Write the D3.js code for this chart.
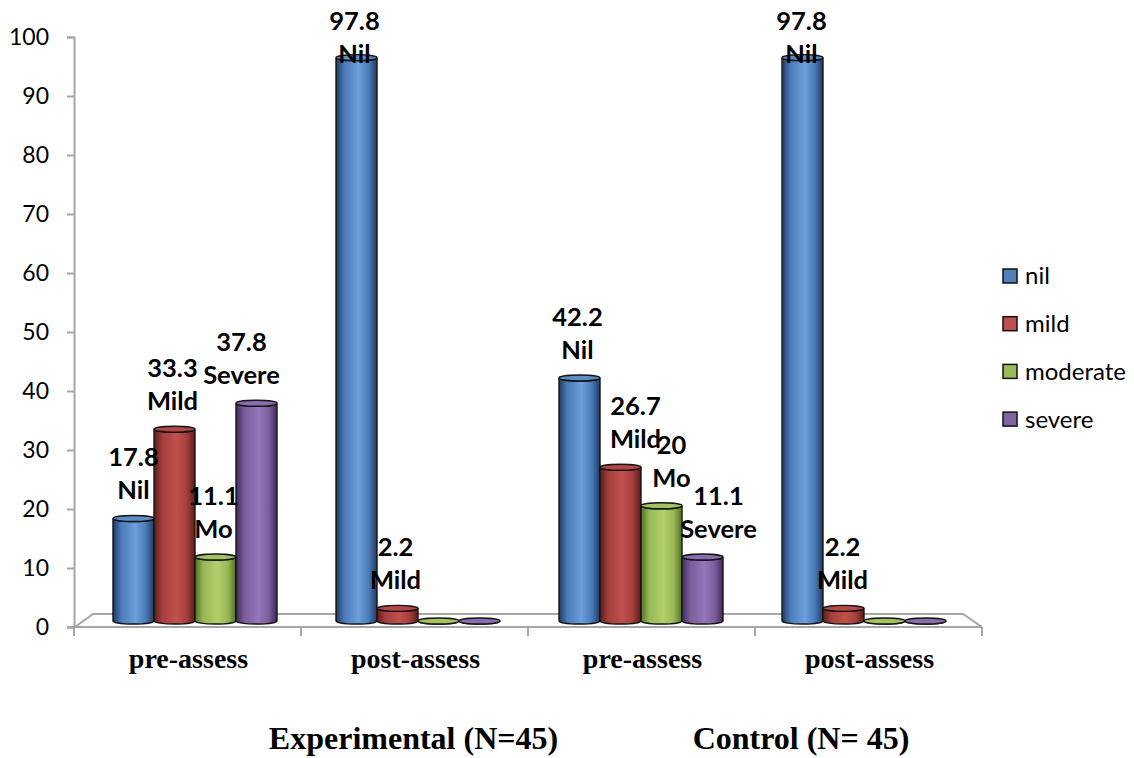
<!DOCTYPE html>
<html>
<head>
<meta charset="utf-8">
<script src="https://cdn.jsdelivr.net/npm/d3@7"></script>
<style>
  html, body { margin: 0; padding: 0; background: #fff; }
  svg { display: block; }
</style>
</head>
<body>
<svg id="chart" width="1134" height="758"></svg>
<script>
// ---------- DATA ----------
const categories = ["pre-assess", "post-assess", "pre-assess", "post-assess"];
const groupLabels = ["Experimental (N=45)", "Control (N= 45)"];
const seriesNames = ["nil", "mild", "moderate", "severe"];
const seriesShort = ["Nil", "Mild", "Mo", "Severe"];
const nilValues      = [17.8, 97.8, 42.2, 97.8];
const mildValues     = [33.3, 2.2, 26.7, 2.2];
const moderateValues = [11.1, 0, 20, 0];
const severeValues   = [37.8, 0, 11.1, 0];
const yTicks = [0, 10, 20, 30, 40, 50, 60, 70, 80, 90, 100];

// ---------- LAYOUT / STYLE ----------
const colors = {
  nil:      {dark: "#203a60", mid: "#4a7bb8", light: "#6d9fdc", top: "#5b8dcb"},
  mild:     {dark: "#5a1d1b", mid: "#a53f3c", light: "#c0504d", top: "#b34744"},
  moderate: {dark: "#547022", mid: "#98b856", light: "#b0d06c", top: "#a2c35f"},
  severe:   {dark: "#3e2b5a", mid: "#7a5d9d", light: "#9477b8", top: "#8a6daf"}
};
const legendColors = {nil: "#4f81bd", mild: "#c0504d", moderate: "#9bbb59", severe: "#8064a2"};
// small horizontal label nudges (layout only), per category then series
const labelNudge = [[0, -2, -2, -15], [-2, -2, 0, 0], [-2, 15, 10, 16], [-1, -1, 0, 0]];

const svg = d3.select("#chart");
const values = [nilValues, mildValues, moderateValues, severeValues];

// Axis (front plane) scale
const yAxisScale = d3.scaleLinear().domain([0, 100]).range([627, 37]);
// Bars stand deeper in the 3D box
const yBar = d3.scaleLinear().domain([0, 100]).range([621, 45]);

const xFront = d3.scaleBand().domain(d3.range(categories.length)).range([74, 982]).padding(0);
const xBack = d3.scaleBand().domain(d3.range(categories.length)).range([79, 971]).padding(0);
const xSub = d3.scaleBand().domain(seriesNames).range([0, 164]).padding(0);
const barOffset = 34;

const axisColor = "#a6a6a6";

// gradients
const defs = svg.append("defs");
seriesNames.forEach(s => {
  const c = colors[s];
  const g = defs.append("linearGradient").attr("id", "grad-" + s)
    .attr("x1", "0%").attr("x2", "100%").attr("y1", "0%").attr("y2", "0%");
  [[0, c.dark], [0.2, c.mid], [0.55, c.light], [0.8, c.mid], [1, c.dark]].forEach(([o, col]) => {
    g.append("stop").attr("offset", o).attr("stop-color", col);
  });
});

// floor
const floorG = svg.append("g");
floorG.append("path")
  .attr("d", `M75,627 L93,614 L963,614 L982,627`)
  .attr("fill", "none").attr("stroke", axisColor).attr("stroke-width", 2);
floorG.append("line").attr("x1", 67).attr("x2", 982).attr("y1", 627).attr("y2", 627)
  .attr("stroke", axisColor).attr("stroke-width", 2);
floorG.selectAll("line.xt").data(d3.range(categories.length + 1)).join("line")
  .attr("class", "xt")
  .attr("x1", i => i < categories.length ? xFront(i) : xFront.range()[1])
  .attr("x2", i => i < categories.length ? xFront(i) : xFront.range()[1])
  .attr("y1", 627).attr("y2", 636)
  .attr("stroke", axisColor).attr("stroke-width", 2);

// y axis
const yAxis = d3.axisLeft(yAxisScale).tickValues(yTicks).tickSize(7).tickPadding(18);
const yG = svg.append("g").attr("transform", "translate(74,0)").call(yAxis);
yG.select(".domain").attr("stroke", axisColor).attr("stroke-width", 2);
yG.selectAll(".tick line").attr("stroke", axisColor).attr("stroke-width", 2);
yG.selectAll(".tick text")
  .attr("font-family", "Lato, 'Open Sans', sans-serif")
  .attr("font-size", 23).attr("fill", "#000");

// bars
const ry = 3;
const barsG = svg.append("g");
categories.forEach((cat, ci) => {
  seriesNames.forEach((s, si) => {
    const v = values[si][ci];
    const x0 = xBack(ci) + barOffset + xSub(s);
    const w = xSub.bandwidth();
    const rx = w / 2;
    const cx = x0 + rx;
    const top = yBar(v);
    const bot = yBar(0);
    const g = barsG.append("g");
    g.append("path")
      .attr("d", `M${x0},${top} L${x0},${bot} A${rx},${ry} 0 0 0 ${x0 + w},${bot} L${x0 + w},${top} A${rx},${ry} 0 0 1 ${x0},${top} Z`)
      .attr("fill", `url(#grad-${s})`)
      .attr("stroke", "#151515").attr("stroke-width", 1.4);
    g.append("ellipse")
      .attr("cx", cx).attr("cy", top).attr("rx", rx).attr("ry", ry)
      .attr("fill", colors[s].top)
      .attr("stroke", "#151515").attr("stroke-width", 1.4);
  });
});

// data labels
const labelsG = svg.append("g")
  .attr("font-family", "Lato, 'Open Sans', sans-serif")
  .attr("font-weight", "bold").attr("font-size", 25.5).attr("fill", "#000")
  .attr("text-anchor", "middle");
categories.forEach((cat, ci) => {
  seriesNames.forEach((s, si) => {
    const v = values[si][ci];
    if (!v) return;
    const cx = xBack(ci) + barOffset + xSub(s) + xSub.bandwidth() / 2 + labelNudge[ci][si];
    const base2 = Math.max(yBar(v) - 19, 63);
    labelsG.append("text").attr("x", cx).attr("y", base2 - 33).text(String(v));
    labelsG.append("text").attr("x", cx).attr("y", base2).text(seriesShort[si]);
  });
});

// category labels
svg.append("g")
  .attr("font-family", "'Liberation Serif', 'Times New Roman', serif")
  .attr("font-weight", "bold").attr("font-size", 28).attr("text-anchor", "middle")
  .selectAll("text").data(categories).join("text")
  .attr("x", (d, i) => xFront(i) + xFront.bandwidth() / 2 + 1)
  .attr("y", 668)
  .text(d => d);

// group labels
svg.append("g")
  .attr("font-family", "'Liberation Serif', 'Times New Roman', serif")
  .attr("font-weight", "bold").attr("font-size", 32).attr("text-anchor", "middle")
  .selectAll("text").data(groupLabels).join("text")
  .attr("x", (d, i) => i === 0 ? (xFront(0) + xFront(2) + xFront.bandwidth()) / 2 - 1 : (xFront(2) + xFront.range()[1]) / 2 + 46)
  .attr("y", 749)
  .text(d => d);

// legend
const legend = svg.append("g").attr("transform", "translate(1003,269)");
const li = legend.selectAll("g").data(seriesNames).join("g")
  .attr("transform", (d, i) => `translate(0,${i * 47.7})`);
li.append("rect").attr("width", 14).attr("height", 14)
  .attr("fill", d => legendColors[d]).attr("stroke", "#111").attr("stroke-width", 1.5);
li.append("text").attr("x", 22).attr("y", 7).attr("dy", "0.35em")
  .attr("font-family", "Lato, 'Open Sans', sans-serif").attr("font-size", 24)
  .text(d => d);
</script>
</body>
</html>
